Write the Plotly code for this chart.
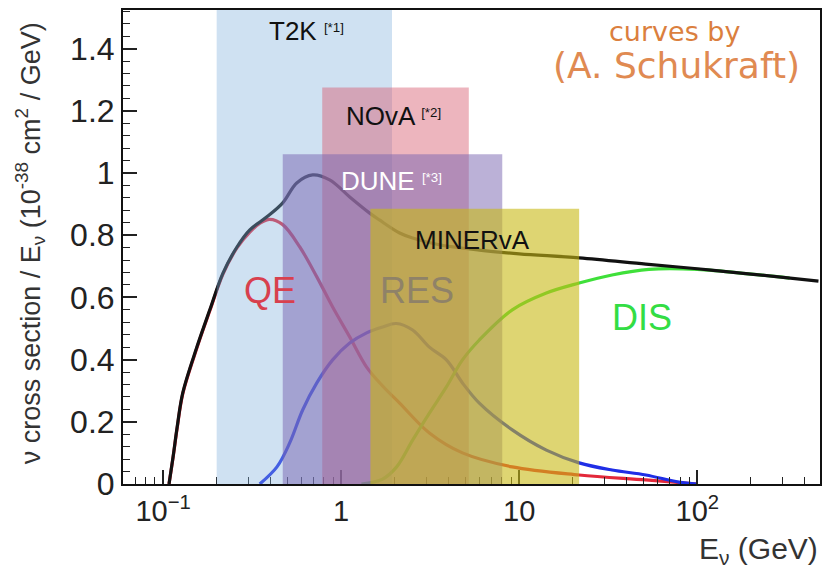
import math
import plotly.graph_objects as go

# ---------------- data ----------------
total_E = [0.108, 0.114, 0.120, 0.129, 0.155, 0.183, 0.217, 0.260, 0.307, 0.383, 0.470, 0.563,
           0.692, 0.862, 1.117, 1.446, 1.64, 2.13, 2.52, 3.5, 5.97, 10.0, 21.7, 51.4, 100.0, 200.0, 479.0]
total_v = [0.0, 0.09, 0.183, 0.293, 0.441, 0.560, 0.678, 0.762, 0.817, 0.859, 0.904, 0.968,
           0.994, 0.978, 0.923, 0.871, 0.849, 0.807, 0.791, 0.770, 0.752, 0.740, 0.727, 0.707, 0.692, 0.675, 0.652]

qe_E = [0.108, 0.114, 0.120, 0.129, 0.155, 0.183, 0.217, 0.260, 0.307, 0.349, 0.397, 0.470, 0.586,
        0.730, 0.896, 1.117, 1.39, 1.71, 2.13, 3.13, 4.80, 9.14, 21.7, 51.4, 100.0]
qe_v = [0.0, 0.088, 0.180, 0.290, 0.438, 0.557, 0.675, 0.759, 0.810, 0.838, 0.851, 0.834, 0.762,
        0.666, 0.569, 0.473, 0.376, 0.315, 0.260, 0.164, 0.100, 0.055, 0.029, 0.013, 0.0]

res_E = [0.349, 0.436, 0.514, 0.608, 0.730, 0.896, 1.117, 1.39, 1.71, 2.04, 2.52, 3.13, 3.90,
         4.80, 5.97, 9.14, 14.2, 21.7, 33.2, 51.4, 78.7, 100.0]
res_v = [0.0, 0.055, 0.132, 0.238, 0.325, 0.399, 0.453, 0.486, 0.505, 0.516, 0.495, 0.440, 0.399,
         0.325, 0.260, 0.174, 0.109, 0.068, 0.045, 0.029, 0.006, 0.0]

dis_E = [1.30, 1.70, 2.05, 2.52, 3.13, 3.90, 4.80, 5.97, 9.14, 14.2, 21.7, 33.2, 53.5, 100.0, 200.0, 330.0]
dis_v = [0.0, 0.015, 0.055, 0.141, 0.228, 0.312, 0.399, 0.463, 0.560, 0.614, 0.646, 0.672, 0.690,
         0.690, 0.675, 0.662]

# experiment bands: name, E low, E high, top value
band_names = ["T2K", "NOvA", "DUNE", "MINERvA"]
band_lo = [0.20, 0.783, 0.47, 1.46]
band_hi = [1.93, 5.21, 8.03, 21.7]
band_top = [1.524, 1.275, 1.06, 0.885]

x_tickvals = [0.1, 1, 10, 100]
x_ticktext = ["10<sup>\u22121</sup>", "1", "10", "10<sup>2</sup>"]
y_tickvals = [0, 0.2, 0.4, 0.6, 0.8, 1.0, 1.2, 1.4]

# ---------------- figure ----------------
W, H = 827, 571
ML, MR, MT, MB = 123, 5, 10, 87
PW, PH = W - ML - MR, H - MT - MB


def px(xp):
    return (xp - ML) / PW


def py(yp):
    return (H - MB - yp) / PH


fig = go.Figure()
line_w = 3.2
fig.add_trace(go.Scatter(x=qe_E, y=qe_v, mode="lines", line=dict(color="#e3283a", width=line_w, shape="spline"), hoverinfo="skip"))
fig.add_trace(go.Scatter(x=res_E, y=res_v, mode="lines", line=dict(color="#1f2ee6", width=line_w, shape="spline"), hoverinfo="skip"))
fig.add_trace(go.Scatter(x=dis_E, y=dis_v, mode="lines", line=dict(color="#3fe03a", width=line_w, shape="spline"), hoverinfo="skip"))
fig.add_trace(go.Scatter(x=total_E, y=total_v, mode="lines", line=dict(color="#111111", width=line_w, shape="spline"), hoverinfo="skip"))

band_colors = ["rgba(130,175,222,0.38)", "rgba(215,90,110,0.45)", "rgba(120,100,175,0.5)", "rgba(200,185,20,0.6)"]
for lo, hi, top, col in zip(band_lo, band_hi, band_top, band_colors):
    fig.add_shape(type="rect", xref="x", yref="y", x0=lo, x1=hi, y0=0, y1=top,
                  fillcolor=col, line=dict(width=0), layer="above")

lab_font = "Liberation Sans, Arial, sans-serif"
sup = "<span style='font-size:19px'><sup>{}</sup></span>"
ann = [
    (291, 31, "T2K " + sup.format("[*1]"), "#111111", 26, lab_font, "left", 267),
    (380, 116, "NOvA " + sup.format("[*2]"), "#111111", 26, lab_font, "left", 345),
    (380, 181, "DUNE " + sup.format("[*3]"), "#ffffff", 26, lab_font, "left", 340),
    (475, 240, "MINERvA", "#111111", 26, lab_font, "left", 414),
    (270, 290, "QE", "#d8404e", 36, lab_font, "center", 270),
    (418, 290, "RES", "#8f8268", 36, lab_font, "center", 418),
    (643, 317, "DIS", "#33dd44", 36, lab_font, "center", 643),
    (676, 31, "curves by", "#db7f3e", 27, "DejaVu Sans, sans-serif", "center", 676),
    (678, 65, "(A. Schukraft)", "#e08a52", 36, "DejaVu Sans, sans-serif", "center", 678),
]
for cx, cy, txt, col, size, fam, anch, ax_ in ann:
    fig.add_annotation(xref="paper", yref="paper", x=px(ax_), y=py(cy), text=txt, showarrow=False,
                       xanchor=anch, yanchor="middle", font=dict(color=col, size=size, family=fam))

# y axis title
fig.add_annotation(xref="paper", yref="paper", x=px(30), y=py(243), textangle=-90, showarrow=False,
                   text="\u03bd cross section / E<sub>\u03bd</sub> (10<sup>-38</sup> cm<sup>2</sup> / GeV)",
                   xanchor="center", yanchor="middle",
                   font=dict(size=27, color="#333333", family=lab_font))
# x axis title
fig.add_annotation(xref="paper", yref="paper", x=1.0, y=py(550), showarrow=False,
                   text="E<sub>\u03bd</sub> (GeV)", xanchor="right", yanchor="middle",
                   font=dict(size=30, color="#333333", family=lab_font))

minor_x = [v * 10 ** d for d in range(-2, 3) for v in range(2, 10)]

fig.update_layout(
    width=W, height=H, margin=dict(l=ML, r=MR, t=MT, b=MB),
    paper_bgcolor="white", plot_bgcolor="white", showlegend=False,
    xaxis=dict(type="log", range=[-1.225, 2.689], tickvals=x_tickvals, ticktext=x_ticktext,
               ticks="inside", ticklen=14, tickwidth=1.5, tickcolor="#222",
               minor=dict(tickvals=minor_x, ticks="inside", ticklen=7, tickwidth=1.2, tickcolor="#222"),
               showgrid=False, zeroline=False, showline=True, linecolor="#111", linewidth=2, mirror=True,
               tickfont=dict(size=29, color="#222", family=lab_font)),
    yaxis=dict(range=[0, 1.524], tickvals=y_tickvals, ticks="inside", ticklen=14, tickwidth=1.5,
               tickcolor="#222",
               minor=dict(dtick=0.04, ticks="inside", ticklen=7, tickwidth=1.2, tickcolor="#222"),
               showgrid=False, zeroline=False, showline=True, linecolor="#111", linewidth=2, mirror=True,
               tickfont=dict(size=32, color="#222", family=lab_font)),
)

fig.write_html("out.html")
